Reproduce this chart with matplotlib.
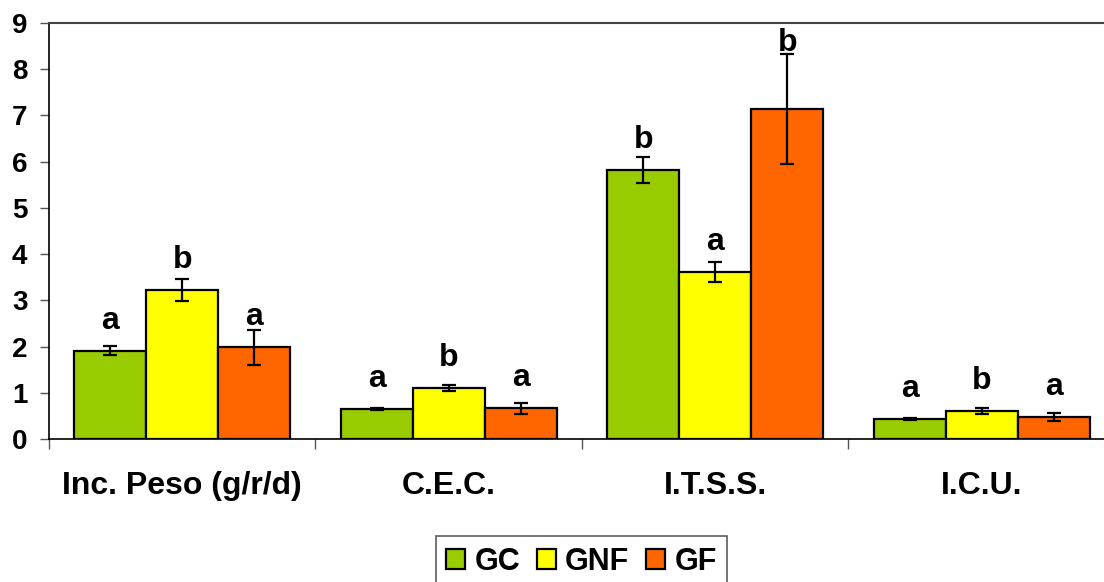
import matplotlib
matplotlib.use("Agg")
import matplotlib.pyplot as plt
import numpy as np

plt.rcParams["font.family"] = ["Liberation Sans", "DejaVu Sans"]
plt.rcParams["font.weight"] = "bold"

# ------------------------------------------------------------------ data
categories = ["Inc. Peso (g/r/d)", "C.E.C.", "I.T.S.S.", "I.C.U."]
groups = ["GC", "GNF", "GF"]
colors = ["#99CC00", "#FFFF00", "#FF6600"]

gc_vals = [1.91, 0.64, 5.82, 0.43]
gnf_vals = [3.22, 1.10, 3.62, 0.61]
gf_vals = [1.98, 0.66, 7.14, 0.47]

gc_err = [0.10, 0.02, 0.29, 0.02]
gnf_err = [0.24, 0.07, 0.22, 0.06]
gf_err = [0.37, 0.11, 1.19, 0.09]

gc_letters = ["a", "a", "b", "a"]
gnf_letters = ["b", "b", "a", "b"]
gf_letters = ["a", "a", "b", "a"]

series_vals = [gc_vals, gnf_vals, gf_vals]
series_err = [gc_err, gnf_err, gf_err]
series_letters = [gc_letters, gnf_letters, gf_letters]

# ------------------------------------------------------------------ figure
fig = plt.figure(figsize=(11.04, 5.82), dpi=100)
W, H = 1104, 582
ax_h_px = 439 - 23
ax = fig.add_axes([49 / W, (H - 439) / H, (1115 - 49) / W, ax_h_px / H])
ymax = 9
px_per_unit = ax_h_px / ymax

x = np.arange(len(categories))
width = 0.27
for i, (vals, err, letters) in enumerate(zip(series_vals, series_err, series_letters)):
    xs = x + (i - 1) * width
    ax.bar(xs, vals, width, color=colors[i], edgecolor="black",
           linewidth=1.6, label=groups[i], zorder=2)
    ax.errorbar(xs, vals, yerr=err, fmt="none", ecolor="black",
                elinewidth=1.6, capsize=5, capthick=1.6, zorder=3)
    for xi, v, e, lt in zip(xs, vals, err, letters):
        # letter sits above the bar, or just above the error bar if that is taller
        ly = max(v + 30 / px_per_unit, v + e + 11 / px_per_unit)
        ax.text(xi, ly, lt, ha="center", va="center", fontsize=23,
                fontweight="bold", zorder=4)

ax.set_xlim(-0.5, len(categories) - 0.5)
ax.set_ylim(0, ymax)
ax.set_yticks(range(0, ymax + 1))
ax.tick_params(axis="y", direction="out", length=6.5, width=1, color="#555555",
               pad=9, labelsize=20)

ax.set_xticks(x)
ax.set_xticklabels(categories)
ax.set_xticks(np.arange(len(categories) + 1) - 0.5, minor=True)
ax.tick_params(axis="x", which="major", length=0, pad=23, labelsize=23)
ax.tick_params(axis="x", which="minor", direction="out", length=7, width=1,
               color="#555555")

for s in ["left", "bottom"]:
    ax.spines[s].set_color("black")
    ax.spines[s].set_linewidth(1.2)
ax.spines["top"].set_color("#444444")
ax.spines["top"].set_linewidth(1.5)
ax.spines["right"].set_visible(False)

leg = fig.legend(loc="upper center", bbox_to_anchor=(581.5 / W, (H - 536) / H),
                 ncol=3, fontsize=22, frameon=True, fancybox=False,
                 handlelength=0.62, handleheight=0.62, handletextpad=0.3,
                 columnspacing=0.55, borderpad=0.35, borderaxespad=0)
leg.get_frame().set_edgecolor("#333333")
leg.get_frame().set_linewidth(1.2)
for t in leg.get_texts():
    t.set_fontweight("bold")

fig.savefig("out.png", dpi=100)
